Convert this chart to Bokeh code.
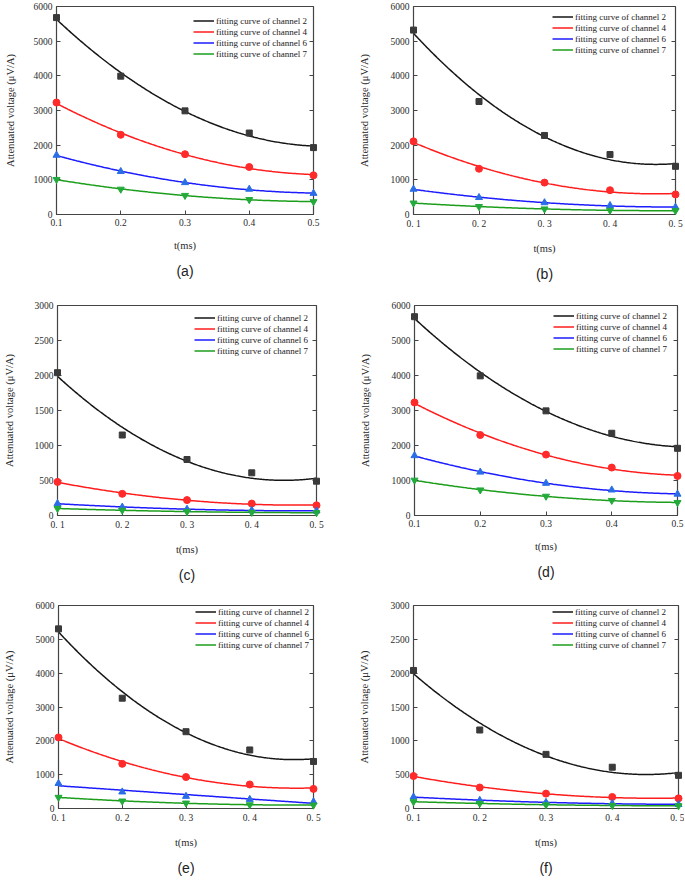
import numpy as np
from bokeh.plotting import figure
from bokeh.models import LinearAxis, Legend, LegendItem, Title, FixedTicker
from bokeh.layouts import column, row
from bokeh.embed import file_html
from bokeh.resources import INLINE

# ---------------- data ----------------
t_ms = [0.1, 0.2, 0.3, 0.4, 0.5]
x_ticks = [0.1, 0.2, 0.3, 0.4, 0.5]
x_labels_dot = ["0.1", "0.2", "0.3", "0.4", "0.5"]
x_labels_space = ["0. 1", "0. 2", "0. 3", "0. 4", "0. 5"]
y_ticks_6000 = [0, 1000, 2000, 3000, 4000, 5000, 6000]
y_ticks_3000 = [0, 500, 1000, 1500, 2000, 2500, 3000]
channels = ["fitting curve of channel 2", "fitting curve of channel 4",
            "fitting curve of channel 6", "fitting curve of channel 7"]
captions = ["(a)", "(b)", "(c)", "(d)", "(e)", "(f)"]

a_ch2 = [5680, 3990, 2990, 2350, 1930]
a_ch4 = [3230, 2300, 1740, 1370, 1130]
a_ch6 = [1710, 1240, 920, 730, 610]
a_ch7 = [1010, 730, 550, 430, 370]

b_ch2 = [5320, 3260, 2280, 1730, 1390]
b_ch4 = [2110, 1320, 920, 700, 580]
b_ch6 = [730, 490, 340, 260, 210]
b_ch7 = [330, 230, 160, 120, 110]

c_ch2 = [2040, 1150, 800, 610, 490]
c_ch4 = [480, 310, 220, 170, 145]
c_ch6 = [170, 120, 90, 75, 65]
c_ch7 = [100, 75, 55, 45, 40]

d_ch2 = [5680, 3990, 2990, 2350, 1920]
d_ch4 = [3230, 2300, 1740, 1370, 1130]
d_ch6 = [1710, 1240, 920, 730, 610]
d_ch7 = [1010, 730, 550, 430, 370]

e_ch2 = [5310, 3260, 2270, 1730, 1390]
e_ch4 = [2100, 1320, 930, 710, 580]
e_ch6 = [740, 490, 360, 270, 200]
e_ch7 = [330, 220, 160, 110, 100]

f_ch2 = [2040, 1160, 800, 610, 490]
f_ch4 = [480, 310, 220, 170, 150]
f_ch6 = [170, 120, 90, 75, 60]
f_ch7 = [100, 75, 55, 45, 40]

# fit degree of each fitting curve (panel e, channel 6 is a straight-line fit)
fit_deg = {"e": [2, 2, 1, 2]}

# ---------------- styles ----------------
line_colors = ["#151515", "#ff1c1c", "#1c1cff", "#1c9e1c"]
marker_colors = ["#3a3a3a", "#ff2a2a", "#2a6ee6", "#22aa3a"]
markers = ["square", "circle", "triangle", "inverted_triangle"]
marker_sizes = [6, 7, 7, 7]
SERIF = "Liberation Serif"
SANS = "Liberation Sans"
AX = "#444444"


def make_panel(key, series, y_ticks, x_labels, width, height, bl, br, bt, bb,
               ylab_standoff, leg_x, leg_top):
    p = figure(width=width, height=height, x_range=(0.1, 0.5), y_range=(0, y_ticks[-1]),
               output_backend="svg", toolbar_location=None,
               min_border_left=bl, min_border_right=br, min_border_top=bt, min_border_bottom=bb,
               x_axis_label="t(ms)", y_axis_label="Attenuated voltage (μV/A)")
    p.grid.visible = False
    p.outline_line_color = AX
    p.outline_line_width = 1
    p.background_fill_color = "white"
    p.border_fill_color = "white"

    degs = fit_deg.get(key, [2, 2, 2, 2])
    xs = np.linspace(0.1, 0.5, 200)
    items = []
    for i, ys in enumerate(series):
        coef = np.polyfit(t_ms, ys, degs[i])
        r = p.line(xs, np.polyval(coef, xs), line_color=line_colors[i], line_width=1.5)
        items.append(LegendItem(label=channels[i], renderers=[r]))
    for i, ys in enumerate(series):
        p.scatter(t_ms, ys, marker=markers[i], size=marker_sizes[i],
                  fill_color=marker_colors[i], line_color=marker_colors[i], level="overlay")

    frame_h = height - bt - bb
    leg = Legend(items=items, location=(leg_x, frame_h - leg_top - 44), orientation="vertical",
                 padding=0, spacing=0, margin=0, label_height=11, glyph_height=11, glyph_width=21,
                 label_standoff=2, border_line_color=None, background_fill_alpha=0,
                 label_text_font=SERIF, label_text_font_size="9px", label_text_color="#1a1a1a")
    p.add_layout(leg)

    # x axis
    xa = p.xaxis[0]
    xa.ticker = FixedTicker(ticks=x_ticks)
    xa.major_label_overrides = {t: l for t, l in zip(x_ticks, x_labels)}
    # y axis
    ya = p.yaxis[0]
    ya.ticker = FixedTicker(ticks=y_ticks)
    for ax in (xa, ya):
        ax.major_tick_in = 4
        ax.major_tick_out = 0
        ax.minor_tick_line_color = None
        ax.axis_line_color = AX
        ax.axis_line_width = 1.2
        ax.major_tick_line_color = AX
        ax.major_label_text_font = SERIF
        ax.major_label_text_font_size = "9.5px"
        ax.major_label_text_color = "#2a2a2a"
        ax.axis_label_text_font = SERIF
        ax.axis_label_text_font_size = "10.5px"
        ax.axis_label_text_font_style = "normal"
        ax.axis_label_text_color = "#2a2a2a"
    xa.major_label_standoff = 4
    xa.axis_label_standoff = 11
    ya.major_label_standoff = 4
    ya.axis_label_standoff = ylab_standoff

    ra = LinearAxis(ticker=FixedTicker(ticks=y_ticks), major_tick_in=4, major_tick_out=0,
                    minor_tick_line_color=None, major_label_text_font_size="1px",
                    major_label_text_color=None, axis_line_width=1.2,
                    major_label_standoff=0, axis_line_color=AX, major_tick_line_color=AX)
    p.add_layout(ra, "right")

    cap = Title(text=captions["abcdef".index(key)], align="center", text_font=SANS,
                text_font_size="14px", text_font_style="normal", text_color="#222222",
                standoff=14)
    p.add_layout(cap, "below")
    return p


W = 342
pa = make_panel("a", [a_ch2, a_ch4, a_ch6, a_ch7], y_ticks_6000, x_labels_dot,
                W, 300, 56, 29, 6, 86, 15, 137, 9)
pb = make_panel("b", [b_ch2, b_ch4, b_ch6, b_ch7], y_ticks_6000, x_labels_space,
                W, 300, 71, 9, 5, 86, 18, 139, 6)
pc = make_panel("c", [c_ch2, c_ch4, c_ch6, c_ch7], y_ticks_3000, x_labels_space,
                W, 300, 56, 26, 5, 85, 17, 137, 7)
pd = make_panel("d", [d_ch2, d_ch4, d_ch6, d_ch7], y_ticks_6000, x_labels_dot,
                W, 300, 72, 7, 4, 84, 18, 139, 7)
pe = make_panel("e", [e_ch2, e_ch4, e_ch6, e_ch7], y_ticks_6000, x_labels_space,
                W, 282, 52, 29, 5, 67, 18, 137, 8)
pf = make_panel("f", [f_ch2, f_ch4, f_ch6, f_ch7], y_ticks_3000, x_labels_space,
                W, 282, 71, 6, 5, 67, 18, 139, 8)

layout = column(row(pa, pb), row(pc, pd), row(pe, pf))
open("out.html", "w").write(file_html(layout, INLINE))
